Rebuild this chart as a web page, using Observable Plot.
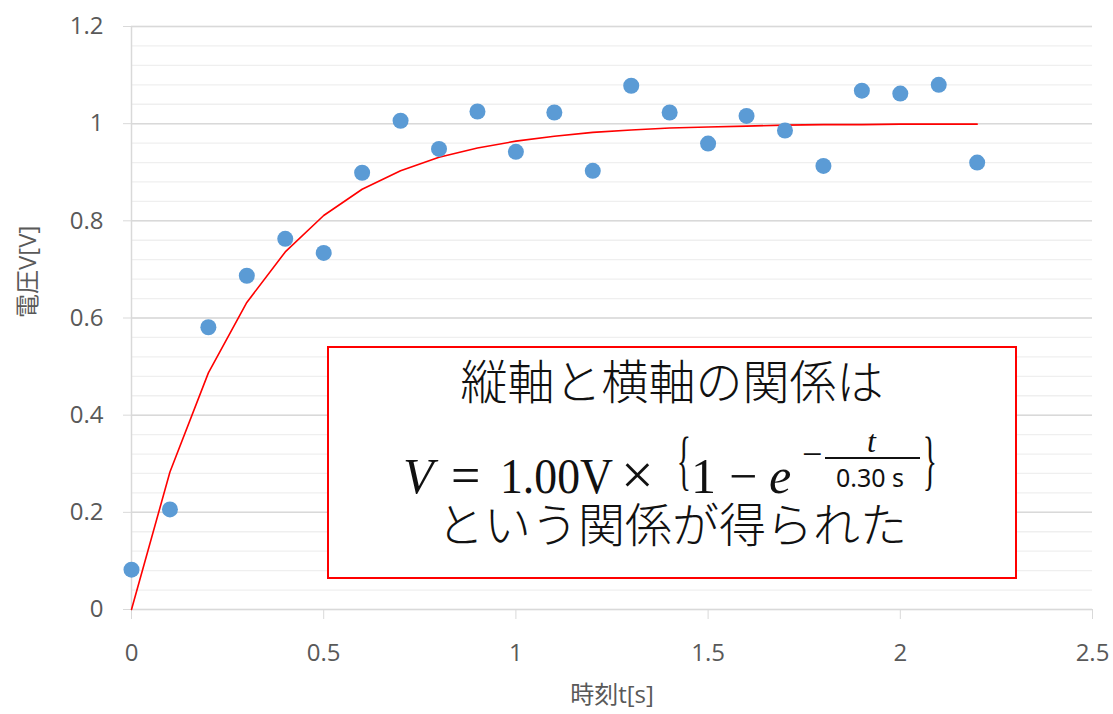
<!DOCTYPE html>
<html>
<head>
<meta charset="utf-8">
<script src="https://cdn.jsdelivr.net/npm/d3@7"></script>
<script src="https://cdn.jsdelivr.net/npm/@observablehq/plot@0.6"></script>
<style>
  body { margin: 0; background: #fff; }
  #wrap { position: relative; width: 1113px; height: 714px; }
  #box {
    position: absolute; left: 327px; top: 346px; width: 686px; height: 229px;
    border: 2px solid #ff0000; background: #fff;
    font-family: "Noto Sans CJK JP", sans-serif; color: #111;
    text-align: center;
  }
  .l1, .l3 { position: absolute; left: 0; right: 0; font-size: 47px; line-height: 0.5; font-weight: 300; white-space: nowrap; }
  .l1 { top: 19px; }
  .l3 { top: 162px; }
  #formula { position: absolute; left: 0; top: 0; pointer-events: none; }
</style>
</head>
<body>
<div id="wrap"></div>
<script>
const t = [0, 0.1, 0.2, 0.3, 0.4, 0.5, 0.6, 0.7, 0.8, 0.9, 1.0, 1.1, 1.2, 1.3, 1.4, 1.5, 1.6, 1.7, 1.8, 1.9, 2.0, 2.1, 2.2];
const measured = [0.082, 0.206, 0.581, 0.687, 0.763, 0.734, 0.899, 1.006, 0.948, 1.025, 0.942, 1.023, 0.903, 1.078, 1.023, 0.959, 1.016, 0.986, 0.913, 1.068, 1.062, 1.080, 0.920];
const fitted = [0, 0.283, 0.487, 0.632, 0.736, 0.811, 0.865, 0.903, 0.931, 0.950, 0.964, 0.974, 0.982, 0.987, 0.991, 0.993, 0.995, 0.997, 0.998, 0.998, 0.999, 0.999, 0.999];
const yTicks = [0, 0.2, 0.4, 0.6, 0.8, 1.0, 1.2];
const xTicks = [0, 0.5, 1, 1.5, 2, 2.5];
const yMinor = d3.range(0, 1.2001, 0.04);
const xLabel = "時刻t[s]";
const yLabel = "電圧V[V]";

const data = t.map((v, i) => ({t: v, measured: measured[i], fitted: fitted[i]}));
const font = "'Open Sans', 'Noto Sans CJK JP', sans-serif";

const chart = Plot.plot({
  width: 1113,
  height: 714,
  marginLeft: 131,
  marginRight: 21,
  marginTop: 26,
  marginBottom: 105,
  style: {fontFamily: font, background: "#fff"},
  x: {domain: [0, 2.5]},
  y: {domain: [0, 1.2]},
  marks: [
    Plot.ruleY(yMinor, {stroke: "#efefef", strokeWidth: 1.3}),
    Plot.ruleY(yTicks, {stroke: "#d9d9d9", strokeWidth: 1.5}),
    Plot.ruleX([0], {stroke: "#d9d9d9", strokeWidth: 1.5}),
    Plot.axisY({ticks: yTicks, tickSize: 8, tickPadding: 20, stroke: "#d9d9d9", fill: "#595959", fontSize: 24, label: null, tickFormat: d => String(+d.toFixed(1))}),
    Plot.axisX({ticks: xTicks, tickSize: 10, tickPadding: 24, stroke: "#d9d9d9", fill: "#595959", fontSize: 24, label: null, tickFormat: d => String(d)}),
    Plot.line(data, {x: "t", y: "fitted", stroke: "#ff0000", strokeWidth: 1.6}),
    Plot.dot(data, {x: "t", y: "measured", r: 8, fill: "#5b9bd5", stroke: "none"}),
    Plot.text([xLabel], {frameAnchor: "bottom", dy: 93, text: d => d, fill: "#595959", fontSize: 24}),
    Plot.text([yLabel], {frameAnchor: "left", dx: -103, rotate: -90, text: d => d, fill: "#595959", fontSize: 24})
  ]
});

const wrap = document.getElementById("wrap");
wrap.appendChild(chart);
const box = document.createElement("div");
box.id = "box";
box.innerHTML = `
  <div class="l1">縦軸と横軸の関係は</div>
  <div class="l3">という関係が得られた</div>`;
wrap.appendChild(box);

// Formula overlay (annotation) as one text element with positioned tspans
const ns = "http://www.w3.org/2000/svg";
const fsvg = document.createElementNS(ns, "svg");
fsvg.setAttribute("id", "formula");
fsvg.setAttribute("width", 1113);
fsvg.setAttribute("height", 714);
const serif = "'Liberation Serif', serif";
const pieces = [
  {s: "V", x: 403, y: 493, size: 50, italic: true},
  {s: "=", x: 451, y: 493, size: 52},
  {s: "1.00V", x: 500, y: 493, size: 50, len: 113},
  {s: "×", x: 621, y: 494, size: 58},
  {s: "1", x: 691, y: 493, size: 50},
  {s: "−", x: 729, y: 493, size: 50},
  {s: "e", x: 769, y: 493, size: 50, italic: true},
  {s: "−", x: 802, y: 466, size: 36},
  {s: "t", x: 867, y: 452, size: 32, italic: true},
  {s: "0.30 s", x: 836, y: 487, size: 25, family: "'Noto Sans', sans-serif"}
];
const ftext = document.createElementNS(ns, "text");
ftext.setAttribute("font-family", serif);
ftext.setAttribute("fill", "#111");
for (const p of pieces) {
  const el = document.createElementNS(ns, "tspan");
  el.setAttribute("x", p.x);
  el.setAttribute("y", p.y);
  el.setAttribute("font-size", p.size);
  if (p.family) el.setAttribute("font-family", p.family);
  el.setAttribute("font-style", p.italic ? "italic" : "normal");
  if (p.len) { el.setAttribute("textLength", p.len); el.setAttribute("lengthAdjust", "spacingAndGlyphs"); }
  el.textContent = p.s;
  ftext.appendChild(el);
}
fsvg.appendChild(ftext);
for (const b of [{s: "{", x: 684}, {s: "}", x: 930}]) {
  const el = document.createElementNS(ns, "text");
  el.setAttribute("font-size", 66);
  el.setAttribute("font-family", serif);
  el.setAttribute("text-anchor", "middle");
  el.setAttribute("transform", `translate(${b.x},482) scale(0.45,1)`);
  el.setAttribute("fill", "#111");
  el.textContent = b.s;
  fsvg.appendChild(el);
}
const bar = document.createElementNS(ns, "line");
bar.setAttribute("x1", 825); bar.setAttribute("x2", 920);
bar.setAttribute("y1", 458); bar.setAttribute("y2", 458);
bar.setAttribute("stroke", "#111"); bar.setAttribute("stroke-width", 2.2);
fsvg.appendChild(bar);
wrap.appendChild(fsvg);
</script>
</body>
</html>
